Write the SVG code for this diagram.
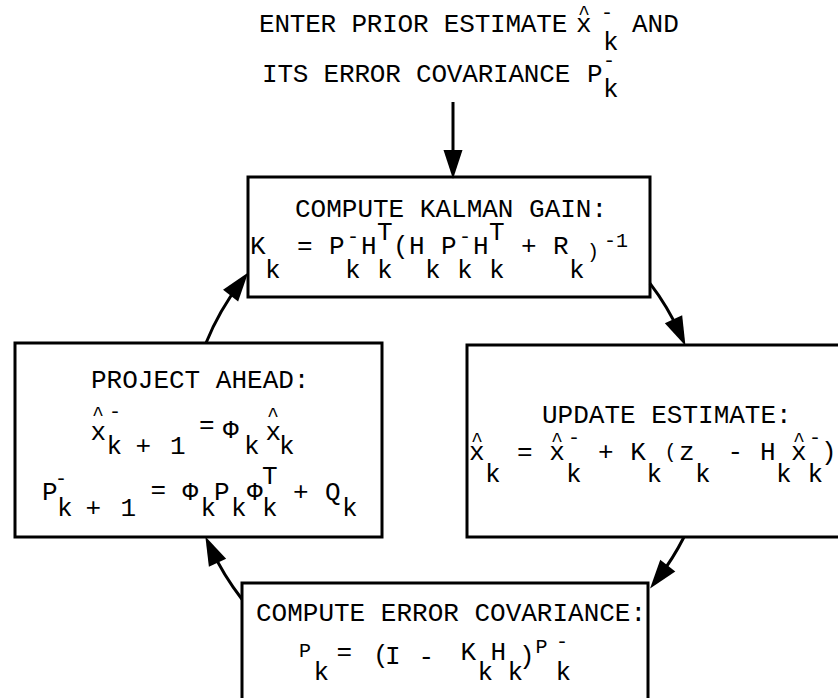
<svg xmlns="http://www.w3.org/2000/svg" width="838" height="698" viewBox="0 0 838 698">
  <style>
    .t { font-family: "Liberation Mono", "DejaVu Sans Mono", monospace; font-size: 26px; fill: #000; }
    .s { font-size: 20px; }
    .box { fill: none; stroke: #000; stroke-width: 3; }
    .arc { fill: none; stroke: #000; stroke-width: 3; marker-end: url(#ah); }
  </style>
  <defs>
    <marker id="ah" markerUnits="userSpaceOnUse" markerWidth="30" markerHeight="20" refX="16" refY="9.5" orient="auto" overflow="visible">
      <path d="M0,0 L29,9.5 L0,19 Z" fill="#000"/>
    </marker>
  </defs>
  <rect width="838" height="698" fill="#fff"/>

  <g id="entry-label">
    <text class="t"><tspan x="259" y="32" letter-spacing="-0.2">ENTER PRIOR ESTIMATE</tspan><tspan x="576" y="32">x</tspan><tspan class="s" x="578" y="19">^</tspan><tspan class="s" x="601" y="19">-</tspan><tspan x="603" y="50">k</tspan><tspan x="632" y="32">AND</tspan></text>
    <text class="t"><tspan x="262" y="82" letter-spacing="-0.2">ITS ERROR COVARIANCE</tspan><tspan x="587" y="82">P</tspan><tspan class="s" x="603" y="67">-</tspan><tspan x="603" y="97">k</tspan></text>
  </g>

  <g id="gain">
    <rect class="box" x="248" y="177" width="402" height="120"/>
    <text class="t" x="295" y="217">COMPUTE KALMAN GAIN:</text>
    <text class="t"><tspan x="250" y="254">K</tspan><tspan x="265" y="278">k</tspan><tspan x="297" y="254">=</tspan><tspan x="329" y="254">P</tspan><tspan class="s" x="347" y="243">-</tspan><tspan x="345" y="278">k</tspan><tspan x="361" y="254">H</tspan><tspan x="377" y="240">T</tspan><tspan x="377" y="278">k</tspan><tspan x="393" y="254">(</tspan><tspan x="409" y="254">H</tspan><tspan x="425" y="278">k</tspan><tspan x="441" y="254">P</tspan><tspan class="s" x="459" y="243">-</tspan><tspan x="457" y="278">k</tspan><tspan x="473" y="254">H</tspan><tspan x="489" y="240">T</tspan><tspan x="489" y="278">k</tspan><tspan x="521" y="254">+</tspan><tspan x="553" y="254">R</tspan><tspan x="569" y="278">k</tspan><tspan class="s" x="587" y="258">)</tspan><tspan class="s" x="604" y="247">-1</tspan></text>
  </g>

  <g id="project">
    <rect class="box" x="15" y="343" width="367" height="194"/>
    <text class="t" x="91" y="388">PROJECT AHEAD:</text>
    <text class="t"><tspan x="90.5" y="440">x</tspan><tspan class="s" x="92" y="420">^</tspan><tspan class="s" x="109" y="418">-</tspan><tspan x="106.5" y="454">k</tspan><tspan x="135.5" y="454">+</tspan><tspan x="170" y="454">1</tspan><tspan x="199" y="433">=</tspan><tspan x="223" y="438">Φ</tspan><tspan x="244" y="454">k</tspan><tspan x="265.5" y="440">x</tspan><tspan class="s" x="267" y="421">^</tspan><tspan x="279" y="454">k</tspan></text>
    <text class="t"><tspan x="42" y="500">P</tspan><tspan class="s" x="55" y="485">-</tspan><tspan x="57" y="516">k</tspan><tspan x="85.5" y="516">+</tspan><tspan x="120.5" y="516">1</tspan><tspan x="150.5" y="498">=</tspan><tspan x="182.5" y="500">Φ</tspan><tspan x="200.5" y="516">k</tspan><tspan x="214" y="500">P</tspan><tspan x="231" y="516">k</tspan><tspan x="247" y="500">Φ</tspan><tspan x="262" y="484">T</tspan><tspan x="262" y="516">k</tspan><tspan x="293" y="500">+</tspan><tspan x="325" y="500">Q</tspan><tspan x="342" y="516">k</tspan></text>
  </g>

  <g id="update">
    <rect class="box" x="467" y="345" width="380" height="192"/>
    <text class="t" x="542" y="423">UPDATE ESTIMATE:</text>
    <text class="t"><tspan x="469" y="460">x</tspan><tspan class="s" x="471" y="446">^</tspan><tspan x="485" y="482">k</tspan><tspan x="516.9" y="460">=</tspan><tspan x="549.3" y="460">x</tspan><tspan class="s" x="551" y="446">^</tspan><tspan class="s" x="568" y="444">-</tspan><tspan x="566" y="482">k</tspan><tspan x="598" y="460">+</tspan><tspan x="630.3" y="460">K</tspan><tspan x="646.5" y="482">k</tspan><tspan class="s" x="664.5" y="458">(</tspan><tspan x="679" y="460">z</tspan><tspan x="695" y="482">k</tspan><tspan x="727.5" y="460">-</tspan><tspan x="760" y="460">H</tspan><tspan x="776" y="482">k</tspan><tspan x="791" y="460">x</tspan><tspan class="s" x="793" y="446">^</tspan><tspan class="s" x="809" y="444">-</tspan><tspan x="807.5" y="482">k</tspan><tspan x="821" y="460">)</tspan></text>
  </g>

  <g id="covariance">
    <rect class="box" x="242" y="583" width="406" height="130"/>
    <text class="t" x="256" y="621">COMPUTE ERROR COVARIANCE:</text>
    <text class="t"><tspan class="s" x="299" y="657">P</tspan><tspan x="313.5" y="680">k</tspan><tspan x="336.5" y="660">=</tspan><tspan x="373" y="663">(</tspan><tspan x="385" y="664">I</tspan><tspan x="418.5" y="665">-</tspan><tspan x="460.5" y="660">K</tspan><tspan x="477.5" y="680">k</tspan><tspan x="490.5" y="660">H</tspan><tspan x="507.5" y="680">k</tspan><tspan x="519" y="664">)</tspan><tspan class="s" x="535.5" y="653">P</tspan><tspan class="s" x="556" y="648">-</tspan><tspan x="555.5" y="680">k</tspan></text>
  </g>

  <g id="connectors">
    <path class="arc" d="M453,102 L453,166"/>
    <path class="arc" d="M650,283.4 A258,258 0 0 1 680.1,333.8"/>
    <path class="arc" d="M684,537 A258,258 0 0 1 658,578.3"/>
    <path class="arc" d="M242,599.2 A258,258 0 0 1 210.8,548.2"/>
    <path class="arc" d="M206,343 A258,258 0 0 1 240.3,282.9"/>
  </g>
</svg>
